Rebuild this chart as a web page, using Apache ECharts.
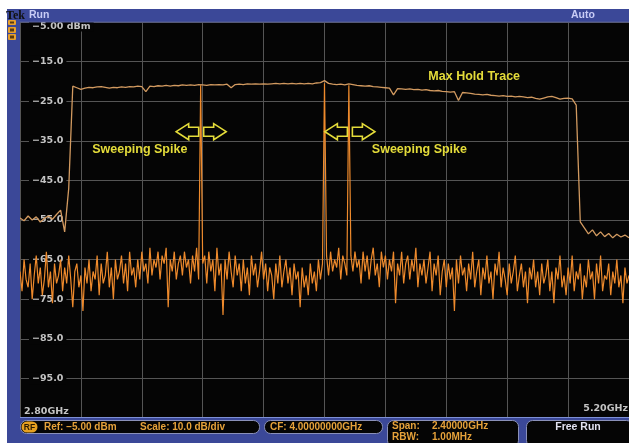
<!DOCTYPE html>
<html>
<head>
<meta charset="utf-8">
<script src="https://cdn.jsdelivr.net/npm/echarts@6/dist/echarts.min.js"></script>
<style>
  html, body { margin: 0; padding: 0; background: #ffffff; }
  #chart { width: 629px; height: 443px; }
</style>
</head>
<body>
<div id="chart"></div>
<script>
// ---- Sweep settings ----
const freqStartGHz = 2.80;
const freqStopGHz = 5.20;
const freqDivGHz = 0.24;
const refLevelDbm = -5;
const bottomLevelDbm = -105;
const dbPerDiv = 10;
const freqEdgeLabels = ['2.80GHz', '5.20GHz'];

// ---- Max hold trace (dBm), one point every 16 MHz from 2.80 GHz ----
const maxHoldStepGHz = 0.016;
const maxHoldDbm = [
  -54.5, -55.2, -54.0, -55.0, -54.2, -55.5, -54.6, -54.0, -54.8, -53.6,
  -52.5, -58.0, -47.0, -21.2, -21.6, -22.0, -21.7, -21.5, -21.6, -21.4,
  -21.3, -21.5, -21.7, -21.5, -21.6, -21.4, -21.5, -21.3, -21.4, -21.2,
  -21.3, -22.6, -21.2, -21.3, -21.1, -21.2, -21.0, -21.2, -21.0, -21.1,
  -20.9, -21.0, -20.9, -21.0, -20.8, -20.9, -21.0, -20.8, -20.9, -20.8,
  -20.9, -20.7, -21.6, -20.8, -20.7, -20.8, -20.6, -20.7, -20.6, -20.7,
  -20.6, -20.7, -20.6, -20.5, -20.6, -20.5, -20.6, -20.5, -20.6, -20.5,
  -20.6, -20.5, -20.6, -20.4, -20.3, -19.8, -20.5, -20.7, -20.8, -20.7,
  -20.9, -20.6, -20.8, -21.0, -21.1, -21.2, -21.1, -21.3, -21.4, -21.5,
  -21.6, -21.7, -23.4, -21.8, -21.9, -22.0, -21.9, -22.1, -22.0, -22.2,
  -22.1, -22.3, -22.4, -22.3, -22.5, -22.6, -22.7, -22.6, -24.8, -22.8,
  -22.9, -23.0, -23.2, -23.3, -23.4, -23.3, -23.5, -23.6, -23.7, -23.6,
  -23.8, -23.7, -23.9, -23.8, -23.9, -24.1, -24.0, -24.3, -24.5, -24.2,
  -23.9, -23.8, -24.1, -24.5, -24.3, -24.2, -24.4, -26.0, -55.5, -57.0,
  -58.5, -57.5, -59.0, -58.0, -59.2, -58.4, -59.5, -58.6, -59.3, -58.8,
  -59.5
];

// ---- Live sweep (dBm), one point every 8 MHz from 2.80 GHz ----
const liveStepGHz = 0.008;
const liveDbm = [
  -68, -73, -65, -70, -72, -66, -75, -69, -64, -71,
  -67, -74, -70, -63, -72, -68, -76, -66, -71, -69,
  -65, -73, -67, -71, -64, -70, -77, -68, -66, -72,
  -69, -78, -67, -71, -65, -73, -68, -70, -64, -74,
  -66, -71, -69, -63, -72, -67, -75, -65, -70, -68,
  -64, -71, -66, -73, -63, -69, -67, -72, -65, -70,
  -63, -68, -66, -71, -62, -69, -65, -67, -63, -70,
  -64, -66, -62, -77, -65, -68, -63, -70, -66, -64,
  -69, -63, -67, -65, -71, -64, -68, -62, -70, -21,
  -66, -64, -71, -63, -68, -65, -73, -62, -69, -66,
  -79, -65, -70, -63, -68, -72, -64, -69, -66, -73,
  -65, -71, -67, -74, -64, -69, -66, -72, -68, -63,
  -70, -66, -73, -67, -69, -75, -66, -71, -64, -72,
  -68, -65, -71, -67, -74, -66, -70, -68, -77, -67,
  -72, -69, -74, -66, -71, -68, -73, -65, -70, -66,
  -20.5, -64, -69, -63, -68, -65, -67, -62, -70, -64,
  -66, -69, -21, -64, -68, -63, -67, -65, -71, -63,
  -68, -64, -70, -65, -62, -69, -66, -72, -63, -67,
  -64, -70, -65, -68, -63, -76, -66, -69, -63, -71,
  -66, -64, -70, -65, -68, -62, -72, -66, -69, -65,
  -71, -67, -63, -73, -66, -69, -64, -74, -68, -65,
  -72, -66, -70, -67, -78, -65, -71, -64, -69, -67,
  -73, -66, -70, -63, -72, -68, -65, -74, -67, -70,
  -64, -71, -68, -75, -66, -69, -63, -72, -67, -70,
  -74, -66, -71, -68, -64, -73, -69, -66, -72, -68,
  -76, -67, -70, -65, -72, -68, -74, -66, -71, -69,
  -65, -73, -68, -76, -67, -70, -64, -72, -69, -74,
  -67, -71, -64, -73, -68, -70, -66, -75, -69, -72,
  -65, -70, -68, -75, -66, -71, -64, -73, -69, -70,
  -66, -74, -68, -71, -65, -72, -69, -76, -67, -71,
  -69
];

// ---- Annotations: [GHz, dBm] anchors ----
const noteTexts = ['Sweeping Spike', 'Sweeping Spike', 'Max Hold Trace'];
const noteAnchors = [[3.272, -37.3], [4.374, -37.1], [4.590, -18.8]];
const arrowAnchors = [[3.514, -32.7], [4.100, -32.7]];

// ---- Instrument readouts ----
const refReadout = 'Ref: \u22125.00 dBm';
const scaleReadout = 'Scale: 10.0 dB/div';
const cfReadout = 'CF: 4.00000000GHz';
const spanReadout = ['Span:', '2.40000GHz'];
const rbwReadout = ['RBW:', '1.00MHz'];

function toPairs(values, step) {
  return values.map((v, i) => [+(freqStartGHz + i * step).toFixed(4), v]);
}
function fmtDb(v) {
  return (v < 0 ? '\u2212' : '') + Math.abs(v).toFixed(1);
}

const chart = echarts.init(document.getElementById('chart'), null, { renderer: 'canvas' });

const FRAME_BLUE = '#3b4898';
const READOUT = '#e6a23a';
const NOTE = '#e4dc3a';
const SCALE_TXT = '#c4c4c4';
const GRID_LINE = '#555555';
const READOUT_FONT = 'bold 10px "Liberation Sans"';

chart.setOption({
  animation: false,
  backgroundColor: '#ffffff',
  grid: {
    left: 20, right: 0, top: 22, bottom: 25,
    show: true, backgroundColor: '#050505', borderWidth: 0
  },
  xAxis: {
    type: 'value',
    min: freqStartGHz, max: freqStopGHz, interval: freqDivGHz,
    axisLine: { show: false }, axisTick: { show: false }, axisLabel: { show: false },
    splitLine: { show: true, lineStyle: { color: GRID_LINE, width: 1 } }
  },
  yAxis: {
    type: 'value',
    min: bottomLevelDbm, max: refLevelDbm, interval: dbPerDiv,
    axisLine: { show: false }, axisTick: { show: false },
    axisLabel: {
      inside: true, margin: 9, showMinLabel: false, showMaxLabel: false,
      formatter: fmtDb,
      color: SCALE_TXT, fontFamily: 'DejaVu Sans', fontSize: 9.5, fontWeight: 'bold',
      backgroundColor: '#050505', padding: [1, 3, 1, 3]
    },
    splitLine: { show: true, lineStyle: { color: GRID_LINE, width: 1 } }
  },
  series: [
    {
      name: 'Max Hold', type: 'line', data: toPairs(maxHoldDbm, maxHoldStepGHz),
      showSymbol: false, silent: true, z: 2,
      lineStyle: { color: '#d29a60', width: 1.3 }
    },
    {
      name: 'Live', type: 'line', data: toPairs(liveDbm, liveStepGHz),
      showSymbol: false, silent: true, z: 3,
      lineStyle: { color: '#ee8a2c', width: 1.2 }
    }
  ]
});

function arrowPoly(cx, cy, dir) {
  const s = dir;
  return [
    [cx + s * 25, cy], [cx + s * 12.5, cy - 8], [cx + s * 12.5, cy - 4.5],
    [cx + s * 2.5, cy - 4.5], [cx + s * 2.5, cy + 4.5], [cx + s * 12.5, cy + 4.5],
    [cx + s * 12.5, cy + 8]
  ];
}

const g = [];
// instrument frame
g.push({ type: 'rect', shape: { x: 7, y: 9, width: 622, height: 13 }, style: { fill: FRAME_BLUE }, z: 10 });
g.push({ type: 'rect', shape: { x: 7, y: 9, width: 13, height: 412 }, style: { fill: FRAME_BLUE }, z: 10 });
g.push({ type: 'rect', shape: { x: 7, y: 417, width: 622, height: 26 }, style: { fill: FRAME_BLUE }, z: 10 });
g.push({ type: 'line', shape: { x1: 20, y1: 417.5, x2: 629, y2: 417.5 }, style: { stroke: '#7d8fd6', lineWidth: 1 }, z: 11 });
g.push({ type: 'line', shape: { x1: 20, y1: 22, x2: 629, y2: 22 }, style: { stroke: '#58609a', lineWidth: 1 }, z: 11 });
g.push({ type: 'text', style: { x: 6, y: 15.5, text: 'Tek', fill: '#101010', font: 'bold 12px "Liberation Serif"', verticalAlign: 'middle' }, z: 12 });
g.push({ type: 'text', style: { x: 29, y: 15.5, text: 'Run', fill: '#c8ccf6', font: 'bold 10.5px "Liberation Sans"', verticalAlign: 'middle' }, z: 12 });
g.push({ type: 'text', style: { x: 571, y: 15.5, text: 'Auto', fill: '#c8ccf6', font: 'bold 10.5px "Liberation Sans"', verticalAlign: 'middle' }, z: 12 });
// side icons
[[20, 5], [27, 6], [34, 6]].forEach(([y, h]) => {
  g.push({ type: 'rect', shape: { x: 8, y: y, width: 8, height: h, r: 1 }, style: { fill: '#e8a02c' }, z: 12 });
  g.push({ type: 'rect', shape: { x: 10, y: y + 1.5, width: 4, height: h - 3 }, style: { fill: '#5a3a10' }, z: 13 });
});

// readout boxes
g.push({ type: 'rect', shape: { x: 20.5, y: 420.5, width: 239, height: 13, r: 6 }, style: { fill: '#050505', stroke: '#8a90b8', lineWidth: 1 }, z: 12 });
g.push({ type: 'rect', shape: { x: 21.5, y: 421.5, width: 16, height: 11, r: 5.5 }, style: { fill: '#e6a020' }, z: 13 });
g.push({ type: 'text', style: { x: 29.5, y: 427.5, text: 'RF', fill: '#2a1a00', font: 'bold 8.5px "Liberation Sans"', align: 'center', verticalAlign: 'middle' }, z: 14 });
g.push({ type: 'text', style: { x: 44, y: 427.5, text: refReadout, fill: READOUT, font: READOUT_FONT, verticalAlign: 'middle' }, z: 13 });
g.push({ type: 'text', style: { x: 140, y: 427.5, text: scaleReadout, fill: READOUT, font: READOUT_FONT, verticalAlign: 'middle' }, z: 13 });
g.push({ type: 'rect', shape: { x: 264.5, y: 420.5, width: 118, height: 13, r: 6 }, style: { fill: '#050505', stroke: '#8a90b8', lineWidth: 1 }, z: 12 });
g.push({ type: 'text', style: { x: 270, y: 427.5, text: cfReadout, fill: READOUT, font: READOUT_FONT, verticalAlign: 'middle' }, z: 13 });
g.push({ type: 'rect', shape: { x: 387.5, y: 420.5, width: 131, height: 26, r: 6 }, style: { fill: '#050505', stroke: '#8a90b8', lineWidth: 1 }, z: 12 });
g.push({ type: 'text', style: { x: 392, y: 426.5, text: spanReadout[0], fill: READOUT, font: READOUT_FONT, verticalAlign: 'middle' }, z: 13 });
g.push({ type: 'text', style: { x: 432, y: 426.5, text: spanReadout[1], fill: READOUT, font: READOUT_FONT, verticalAlign: 'middle' }, z: 13 });
g.push({ type: 'text', style: { x: 392, y: 437.5, text: rbwReadout[0], fill: READOUT, font: READOUT_FONT, verticalAlign: 'middle' }, z: 13 });
g.push({ type: 'text', style: { x: 432, y: 437.5, text: rbwReadout[1], fill: READOUT, font: READOUT_FONT, verticalAlign: 'middle' }, z: 13 });
g.push({ type: 'rect', shape: { x: 526.5, y: 420.5, width: 106, height: 26, r: 6 }, style: { fill: '#050505', stroke: '#8a90b8', lineWidth: 1 }, z: 12 });
g.push({ type: 'text', style: { x: 578, y: 427.5, text: 'Free Run', fill: '#e2e2f0', font: 'bold 10.5px "Liberation Sans"', align: 'center', verticalAlign: 'middle' }, z: 13 });

// scale labels
const refPx = chart.convertToPixel({ gridIndex: 0 }, [freqStartGHz, refLevelDbm]);
g.push({ type: 'text', style: { x: refPx[0] + 9, y: refPx[1] + 4.5, text: fmtDb(refLevelDbm).replace('.0', '.00') + ' dBm', fill: SCALE_TXT, font: 'bold 9.5px "DejaVu Sans"', verticalAlign: 'middle', backgroundColor: '#050505', padding: [0, 3, 0, 3] }, z: 8 });
const lowPx = chart.convertToPixel({ gridIndex: 0 }, [freqStartGHz, bottomLevelDbm]);
const highPx = chart.convertToPixel({ gridIndex: 0 }, [freqStopGHz, bottomLevelDbm]);
g.push({ type: 'text', style: { x: lowPx[0] + 4, y: lowPx[1] - 6, text: freqEdgeLabels[0], fill: SCALE_TXT, font: 'bold 9.5px "DejaVu Sans"', verticalAlign: 'middle' }, z: 8 });
g.push({ type: 'text', style: { x: highPx[0] - 1, y: highPx[1] - 9, text: freqEdgeLabels[1], fill: SCALE_TXT, font: 'bold 9.5px "DejaVu Sans"', align: 'right', verticalAlign: 'middle' }, z: 8 });

// annotations
noteTexts.forEach((t, i) => {
  const p = chart.convertToPixel({ gridIndex: 0 }, noteAnchors[i]);
  g.push({ type: 'text', style: { x: p[0], y: p[1], text: t, fill: NOTE, font: 'bold 12.5px "Liberation Sans"', align: 'center', verticalAlign: 'middle' }, z: 9 });
});
arrowAnchors.forEach((a) => {
  const p = chart.convertToPixel({ gridIndex: 0 }, a);
  [-1, 1].forEach((d) => {
    g.push({ type: 'polygon', shape: { points: arrowPoly(p[0], p[1], d) }, style: { fill: null, stroke: NOTE, lineWidth: 1.6 }, z: 9 });
  });
});

chart.setOption({ graphic: g });
</script>
</body>
</html>
